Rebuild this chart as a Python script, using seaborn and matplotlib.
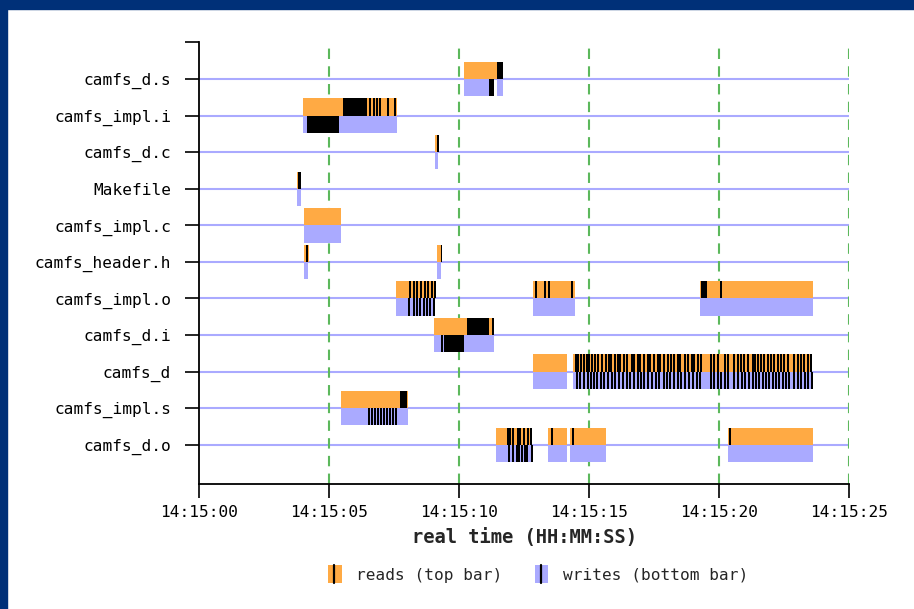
import matplotlib
matplotlib.use("Agg")
import matplotlib.pyplot as plt
from matplotlib.patches import Patch, Rectangle
from matplotlib.lines import Line2D
import seaborn as sns

# files, top row first
files = ["camfs_d.s", "camfs_impl.i", "camfs_d.c", "Makefile", "camfs_impl.c",
         "camfs_header.h", "camfs_impl.o", "camfs_d.i", "camfs_d",
         "camfs_impl.s", "camfs_d.o"]

# seconds after 14:15:00
time_ticks = [0, 5, 10, 15, 20, 25]
time_labels = ["14:15:00", "14:15:05", "14:15:10", "14:15:15", "14:15:20", "14:15:25"]

# open intervals for reading / writing (start, end)
read_spans = {
    "camfs_d.s": [(10.19, 11.71)],
    "camfs_impl.i": [(4.01, 7.62)],
    "camfs_d.c": [(9.09, 9.22)],
    "Makefile": [(3.78, 3.92)],
    "camfs_impl.c": [(4.04, 5.47)],
    "camfs_header.h": [(4.04, 4.22), (9.14, 9.36)],
    "camfs_impl.o": [(7.59, 9.09), (12.86, 14.46), (19.27, 23.63)],
    "camfs_d.i": [(9.04, 11.35)],
    "camfs_d": [(12.83, 14.14), (14.40, 23.57)],
    "camfs_impl.s": [(5.48, 8.02)],
    "camfs_d.o": [(11.41, 12.77), (13.41, 14.14), (14.28, 15.64), (20.33, 23.63)],
}
write_spans = {
    "camfs_d.s": [(10.19, 11.35), (11.47, 11.71)],
    "camfs_impl.i": [(4.01, 7.62)],
    "camfs_d.c": [(9.09, 9.20)],
    "Makefile": [(3.78, 3.92)],
    "camfs_impl.c": [(4.04, 5.47)],
    "camfs_header.h": [(4.04, 4.20), (9.14, 9.32)],
    "camfs_impl.o": [(7.59, 9.05), (12.86, 14.46), (19.27, 23.63)],
    "camfs_d.i": [(9.04, 11.35)],
    "camfs_d": [(12.83, 14.14), (14.40, 23.57)],
    "camfs_impl.s": [(5.48, 8.02)],
    "camfs_d.o": [(11.41, 12.77), (13.41, 14.14), (14.28, 15.64), (20.33, 23.63)],
}

# long runs of calls (start, end)
read_blocks = {
    "camfs_d.s": [(11.47, 11.69)],
    "camfs_impl.i": [(5.53, 6.47)],
    "Makefile": [(3.80, 3.92)],
    "camfs_impl.o": [(19.31, 19.53)],
    "camfs_d.i": [(10.30, 11.15)],
    "camfs_impl.s": [(7.73, 8.00)],
}
write_blocks = {
    "camfs_d.s": [(11.15, 11.35)],
    "camfs_impl.i": [(4.16, 5.40)],
    "camfs_d.i": [(9.42, 10.19)],
}

# single calls (time)
read_ticks = {
    "camfs_impl.i": [6.55, 6.68, 6.81, 6.94, 7.24, 7.50],
    "camfs_d.c": [9.16],
    "camfs_header.h": [4.10, 9.29],
    "camfs_impl.o": [8.06, 8.22, 8.36, 8.50, 8.64, 8.78, 8.92, 9.05,
                     12.92, 13.28, 13.41, 14.31, 20.04],
    "camfs_d.i": [11.27],
    "camfs_d": [14.45, 14.53, 14.65, 14.78, 14.87, 14.97, 15.08, 15.19, 15.32, 15.46,
                15.62, 15.72, 15.81, 15.97, 16.08, 16.17, 16.32, 16.42, 16.62, 16.70,
                16.83, 16.93, 17.07, 17.22, 17.30, 17.45, 17.60, 17.70, 17.86, 17.99,
                18.12, 18.22, 18.37, 18.47, 18.67, 18.76, 18.92, 19.01, 19.14, 19.27,
                19.65, 19.78, 19.91, 20.19, 20.30, 20.55, 20.68, 20.81, 20.91, 21.07,
                21.26, 21.36, 21.45, 21.58, 21.70, 21.83, 21.96, 22.09, 22.22, 22.35,
                22.47, 22.60, 22.86, 22.99, 23.12, 23.24, 23.37, 23.50],
    "camfs_d.o": [11.83, 11.93, 12.05, 12.22, 12.32, 12.45, 12.60, 12.73,
                  13.54, 14.36, 20.40],
}
write_ticks = {
    "camfs_impl.o": [8.05, 8.22, 8.33, 8.47, 8.60, 8.72, 8.85, 8.99],
    "camfs_d.i": [9.31],
    "camfs_d": [14.50, 14.63, 14.78, 14.91, 15.04, 15.14, 15.27, 15.42, 15.55, 15.70,
                15.83, 15.96, 16.13, 16.26, 16.42, 16.55, 16.70, 16.83, 16.96, 17.09,
                17.22, 17.38, 17.54, 17.67, 17.83, 17.96, 18.09, 18.24, 18.37, 18.50,
                18.65, 18.82, 18.95, 19.12, 19.24, 19.65, 19.76, 19.91, 20.04, 20.19,
                20.32, 20.55, 20.68, 20.83, 20.96, 21.10, 21.26, 21.38, 21.51, 21.64,
                21.77, 21.90, 22.03, 22.15, 22.28, 22.41, 22.54, 22.67, 22.86, 22.99,
                23.12, 23.27, 23.40, 23.53],
    "camfs_impl.s": [6.50, 6.62, 6.73, 6.85, 6.96, 7.08, 7.19, 7.31, 7.42, 7.54],
    "camfs_d.o": [11.90, 12.03, 12.19, 12.28, 12.37, 12.51, 12.57, 12.76],
}

ORANGE = "#ffaa44"
BLUE = "#aaaaff"
GREEN = "#5cb85c"
FRAME = "#003078"
BAR_H = 0.47
TICK_W = 0.075


class SwatchHandler:
  """Legend key: coloured box with a black call marker inside."""

  def legend_artist(self, legend, orig_handle, fontsize, handlebox):
    x0, y0 = -handlebox.xdescent, -handlebox.ydescent
    w, h = handlebox.width, handlebox.height
    tr = handlebox.get_transform()
    rect = Rectangle((x0, y0 - 0.15 * h), w, h * 1.3,
                     facecolor=orig_handle.get_facecolor(), lw=0, transform=tr)
    line = Line2D([x0 + 0.45 * w] * 2, [y0 - 0.15 * h, y0 + 1.15 * h],
                  color="black", lw=1.6, transform=tr)
    handlebox.add_artist(rect)
    handlebox.add_artist(line)
    return rect


sns.set_theme(style="white")
plt.rcParams["font.family"] = ["DejaVu Sans Mono", "DejaVu Sans"]

fig = plt.figure(figsize=(9.14, 6.09), dpi=100)
ax = fig.add_axes([199 / 914, 125 / 609, 650 / 914, 442 / 609])

# dark blue frame on top and left
fig.add_artist(Rectangle((0, 1 - 9 / 609), 1, 9 / 609, transform=fig.transFigure,
                         color=FRAME, zorder=-1))
fig.add_artist(Rectangle((0, 0), 7 / 914, 1, transform=fig.transFigure,
                         color=FRAME, zorder=-1))

n = len(files)
row_y = {f: n - 1 - i for i, f in enumerate(files)}

for f in files:
  ax.axhline(row_y[f], color=BLUE, lw=1.5, zorder=1)
for t in time_ticks[1:]:
  ax.axvline(t, color=GREEN, lw=1.5, ls=(0, (5, 3.5)), zorder=1.5)


def draw(spans, y, color, z):
  if not spans:
    return
  starts = [s for s, e in spans]
  widths = [e - s for s, e in spans]
  ax.barh([y] * len(spans), widths, left=starts, height=BAR_H,
          color=color, linewidth=0, zorder=z)


for f in files:
  top = row_y[f] + BAR_H / 2
  bottom = row_y[f] - BAR_H / 2
  draw(read_spans.get(f, []), top, ORANGE, 2)
  draw(write_spans.get(f, []), bottom, BLUE, 2)
  draw(read_blocks.get(f, []), top, "black", 3)
  draw(write_blocks.get(f, []), bottom, "black", 3)
  draw([(t, t + TICK_W) for t in read_ticks.get(f, [])], top, "black", 3)
  draw([(t, t + TICK_W) for t in write_ticks.get(f, [])], bottom, "black", 3)

ax.set_xlim(0, 25)
ax.set_ylim(-1.07, 11.01)
ax.set_xticks(time_ticks)
ax.set_xticklabels(time_labels)
ax.set_yticks([row_y[f] for f in files])
ax.set_yticklabels(files)
ax.set_yticks([11.01], minor=True)

sns.despine(ax=ax)
for side in ["left", "bottom"]:
  ax.spines[side].set_color("black")
  ax.spines[side].set_linewidth(1.3)

ax.tick_params(axis="both", which="both", direction="out", length=10, width=1.2,
               color="black", labelsize=11.6, labelcolor="black", bottom=True, left=True)
ax.tick_params(axis="y", pad=10)
ax.tick_params(axis="x", pad=5)
ax.set_xlabel("real time (HH:MM:SS)", fontsize=13.5, fontweight="bold", labelpad=6)
ax.set_ylabel("")

handles = [Patch(facecolor=ORANGE), Patch(facecolor=BLUE)]
fig.legend(handles, ["reads (top bar)", "writes (bottom bar)"],
           handler_map={Patch: SwatchHandler()},
           loc="center", bbox_to_anchor=(538 / 914, 1 - 575 / 609), ncol=2,
           frameon=False, fontsize=11.6, handlelength=0.85, handleheight=0.9,
           columnspacing=2.0, handletextpad=0.9)

fig.savefig("out.png", dpi=100)
